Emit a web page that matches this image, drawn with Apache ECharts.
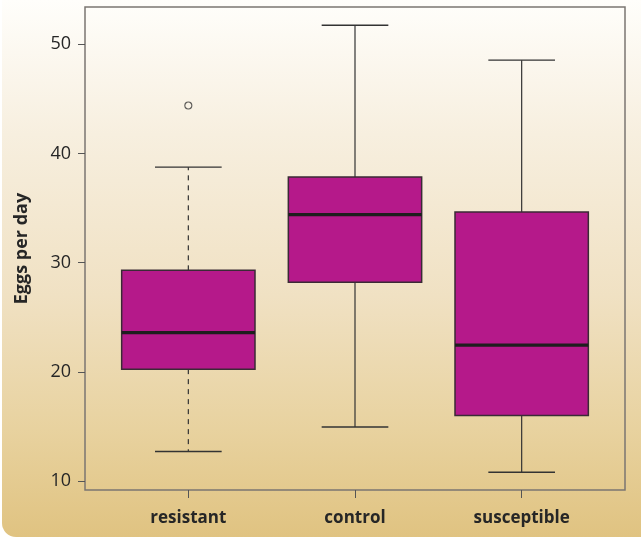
<!DOCTYPE html>
<html>
<head>
<meta charset="utf-8">
<script src="https://cdn.jsdelivr.net/npm/echarts@6/dist/echarts.min.js"></script>
<style>
  html, body { margin: 0; padding: 0; background: #ffffff; }
  #wrap { position: absolute; left: 2px; top: 0; width: 639px; height: 537px;
          border-bottom-left-radius: 14px; overflow: hidden;
          background: linear-gradient(to bottom, #fffefb 0%, #f7efdf 25%, #f0e1c3 55%, #e8d29f 80%, #e0c381 100%); }
  #chart { position: absolute; left: -2px; top: 0; width: 641px; height: 537px; }
</style>
</head>
<body>
<div id="wrap"><div id="chart"></div></div>
<script>
const categories = ['resistant', 'control', 'susceptible'];
const whiskerLow  = [12.7, 14.95, 10.8];
const q1          = [20.25, 28.2, 16.0];
const median      = [23.6, 34.4, 22.45];
const q3          = [29.3, 37.85, 34.65];
const whiskerHigh = [38.75, 51.75, 48.55];
const outliers    = [['resistant', 44.4]];
const yTicks = [10, 20, 30, 40, 50];

const boxData = categories.map((c, i) => [i + 1, whiskerLow[i], q1[i], median[i], q3[i], whiskerHigh[i]]);
const outlierData = outliers.map(o => [categories.indexOf(o[0]) + 1, o[1]]);
const dashedWhiskers = { resistant: true };

const chart = echarts.init(document.getElementById('chart'), null, { renderer: 'canvas' });
const font = '"Open Sans", "Noto Sans", sans-serif';

chart.setOption({
  backgroundColor: 'transparent',
  animation: false,
  grid: { left: 85, right: 16, top: 7, bottom: 47, show: true, borderColor: '#7b7671', borderWidth: 1.5, backgroundColor: 'transparent' },
  xAxis: {
    type: 'value', min: 0.38, max: 3.62,
    splitLine: { show: false },
    axisLine: { show: false },
    axisTick: { show: true, length: 8, customValues: [1, 2, 3], lineStyle: { color: '#555', width: 1 } },
    axisLabel: { customValues: [1, 2, 3], margin: 20, color: '#262626', fontSize: 17, fontWeight: 'bold', fontFamily: font,
      formatter: v => categories[Math.round(v) - 1] || '' }
  },
  yAxis: {
    type: 'value', min: 9.18, max: 53.42,
    name: 'Eggs per day', nameLocation: 'middle', nameRotate: 90, nameGap: 54,
    nameTextStyle: { color: '#262626', fontSize: 18, fontWeight: 'bold', fontFamily: font },
    splitLine: { show: false },
    axisLine: { show: false },
    axisTick: { show: true, length: 7, customValues: yTicks, lineStyle: { color: '#555', width: 1 } },
    axisLabel: { customValues: yTicks, margin: 14, color: '#262626', fontSize: 18, fontFamily: font }
  },
  series: [
    {
      type: 'custom',
      data: boxData,
      encode: { x: 0, y: [1, 2, 3, 4, 5] },
      renderItem: function (params, api) {
        const x = api.value(0);
        const name = categories[Math.round(x) - 1];
        const halfBox = api.size([0.8, 0])[0] / 2;
        const halfCap = api.size([0.4, 0])[0] / 2;
        const pLow = api.coord([x, api.value(1)]);
        const pQ1 = api.coord([x, api.value(2)]);
        const pMed = api.coord([x, api.value(3)]);
        const pQ3 = api.coord([x, api.value(4)]);
        const pHigh = api.coord([x, api.value(5)]);
        const cx = pQ1[0];
        const dash = dashedWhiskers[name] ? [5, 5] : null;
        const wStyle = { stroke: '#333', lineWidth: 1.2, lineDash: dash, fill: null };
        const cStyle = { stroke: '#333', lineWidth: 1.4, fill: null };
        return {
          type: 'group',
          children: [
            { type: 'line', shape: { x1: cx, y1: pQ3[1], x2: cx, y2: pHigh[1] }, style: wStyle },
            { type: 'line', shape: { x1: cx, y1: pQ1[1], x2: cx, y2: pLow[1] }, style: wStyle },
            { type: 'line', shape: { x1: cx - halfCap, y1: pHigh[1], x2: cx + halfCap, y2: pHigh[1] }, style: cStyle },
            { type: 'line', shape: { x1: cx - halfCap, y1: pLow[1], x2: cx + halfCap, y2: pLow[1] }, style: cStyle },
            { type: 'rect', shape: { x: cx - halfBox, y: pQ3[1], width: halfBox * 2, height: pQ1[1] - pQ3[1] },
              style: { fill: '#b5198a', stroke: '#3a2a35', lineWidth: 1.5 } },
            { type: 'line', shape: { x1: cx - halfBox, y1: pMed[1], x2: cx + halfBox, y2: pMed[1] },
              style: { stroke: '#1e1e1e', lineWidth: 3.2 } }
          ]
        };
      }
    },
    {
      type: 'scatter',
      data: outlierData,
      symbol: 'circle', symbolSize: 7,
      itemStyle: { color: 'transparent', borderColor: '#333', borderWidth: 1.1 }
    }
  ]
});
</script>
</body>
</html>
